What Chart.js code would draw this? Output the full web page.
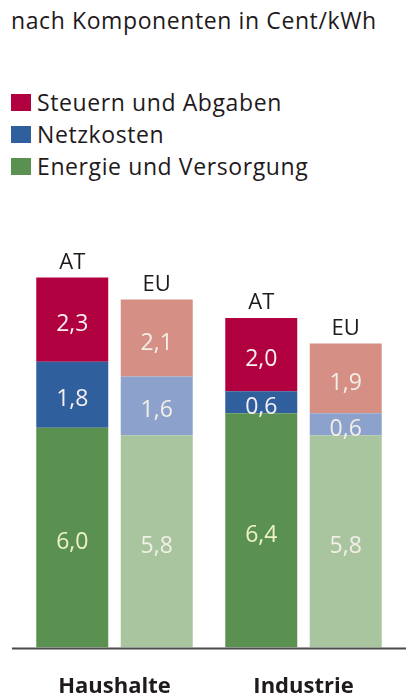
<!DOCTYPE html>
<html>
<head>
<meta charset="utf-8">
<script src="https://cdn.jsdelivr.net/npm/chart.js@4.4.1/dist/chart.umd.min.js"></script>
<style>
  body { margin: 0; background: #fff; font-family: "Open Sans", sans-serif; color: #1f1a1c; }
  #wrap { position: relative; width: 406px; height: 700px; }
  #title { position: absolute; left: 11px; top: 4px; font-size: 23px; font-weight: 500; letter-spacing: 0.6px; }
  #legend { position: absolute; left: 11px; top: 86px; font-size: 23px; font-weight: 500; letter-spacing: 0.6px; }
  .item { height: 32px; line-height: 32px; display: flex; align-items: center; }
  .box { width: 20px; height: 17px; margin-right: 6px; }
  canvas { position: absolute; left: 0; top: 0; }
</style>
</head>
<body>
<div id="wrap">
  <div id="title">nach Komponenten in Cent/kWh</div>
  <div id="legend"></div>
  <canvas id="chart" width="406" height="700"></canvas>
</div>
<script>
// data
const categories = ['Haushalte', 'Industrie'];
const regions = ['AT', 'EU'];
const components = ['Energie und Versorgung', 'Netzkosten', 'Steuern und Abgaben'];

const energieAT = [6.0, 6.4];
const netzAT = [1.8, 0.6];
const steuernAT = [2.3, 2.0];
const energieEU = [5.8, 5.8];
const netzEU = [1.6, 0.6];
const steuernEU = [2.1, 1.9];

const darkColors = ['#5b9150', '#2f5f9c', '#b0003f'];
const lightColors = ['#a9c5a0', '#8ca2cc', '#d68f84'];

// legend (top to bottom: Steuern, Netz, Energie)
const legend = document.getElementById('legend');
for (let i = components.length - 1; i >= 0; i--) {
  const row = document.createElement('div');
  row.className = 'item';
  row.innerHTML = '<span class="box" style="background:' + darkColors[i] + '"></span>' + components[i];
  legend.appendChild(row);
}

const series = {
  AT: [energieAT, netzAT, steuernAT],
  EU: [energieEU, netzEU, steuernEU]
};

const datasets = [];
regions.forEach(function (r) {
  components.forEach(function (c, i) {
    datasets.push({
      label: c + ' ' + r,
      data: series[r][i],
      stack: r,
      backgroundColor: r === 'AT' ? darkColors[i] : lightColors[i],
      borderWidth: 0,
      categoryPercentage: 0.894,
      barPercentage: 0.852
    });
  });
});

const fmt = v => v.toFixed(1).replace('.', ',');

const labelPlugin = {
  id: 'labels',
  afterDatasetsDraw(chart) {
    const ctx = chart.ctx;
    ctx.save();
    ctx.textAlign = 'center';
    ctx.textBaseline = 'middle';
    chart.data.datasets.forEach(function (ds, di) {
      const meta = chart.getDatasetMeta(di);
      meta.data.forEach(function (bar, j) {
        const mid = (bar.y + bar.base) / 2;
        ctx.font = '23px "Open Sans", sans-serif';
        ctx.fillStyle = ds.stack === 'AT' ? (di === 0 ? '#eef0c8' : '#f6eef2') : '#f3efe6';
        ctx.fillText(fmt(ds.data[j]), bar.x, mid + 5);
        // stack name above the top segment
        if (di % 3 === 2) {
          ctx.font = '500 22px "Open Sans", sans-serif';
          ctx.fillStyle = '#1f1a1c';
          ctx.fillText(ds.stack, bar.x, bar.y - 15);
        }
      });
    });
    // baseline
    const y = chart.scales.y.getPixelForValue(0);
    ctx.strokeStyle = '#4a4a4a';
    ctx.lineWidth = 2;
    ctx.beginPath();
    ctx.moveTo(12, y + 1);
    ctx.lineTo(406, y + 1);
    ctx.stroke();
    ctx.restore();
  }
};

new Chart(document.getElementById('chart').getContext('2d'), {
  type: 'bar',
  data: { labels: categories, datasets: datasets },
  plugins: [labelPlugin],
  options: {
    responsive: false,
    animation: false,
    layout: { padding: { top: 208, left: 20, right: 8, bottom: -26 } },
    plugins: {
      legend: { display: false },
      tooltip: { enabled: false }
    },
    scales: {
      x: {
        stacked: true,
        grid: { display: false, drawTicks: false },
        border: { display: false },
        ticks: {
          padding: 26,
          color: '#1f1a1c',
          font: { family: 'Open Sans', size: 22, weight: 'bold' }
        }
      },
      y: {
        stacked: true,
        display: false,
        min: 0,
        max: 12
      }
    }
  }
});
</script>
</body>
</html>
